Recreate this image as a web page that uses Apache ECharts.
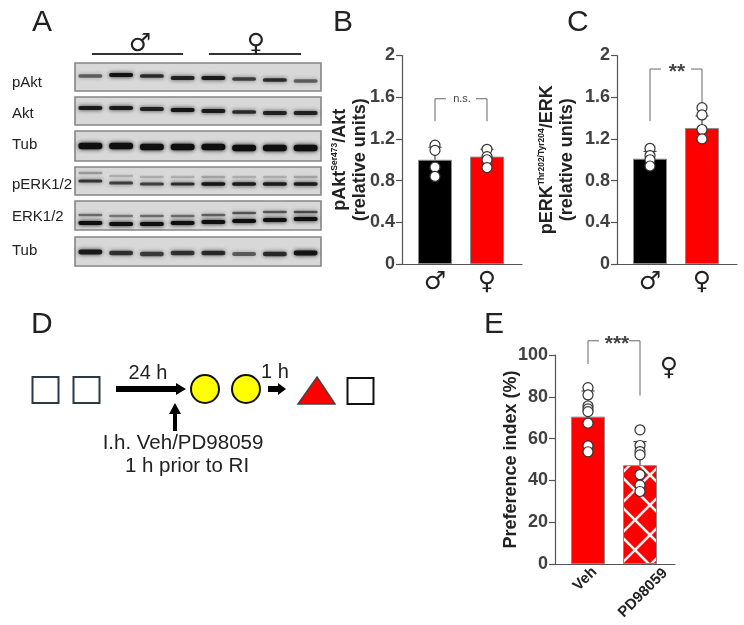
<!DOCTYPE html>
<html lang="en">
<head>
  <meta charset="UTF-8">
  <title>Sex differences in pAkt and pERK</title>
  <style>
    html, body { margin: 0; background: #fff; }
    #main { width: 744px; height: 625px; }
  </style>
</head>
<body>
  <div id="main"></div>
  <script src="https://cdn.jsdelivr.net/npm/echarts@6/dist/echarts.min.js"></script>
  <script>
    // panel A, band strength per lane and how far each band ran down the blot column
    var lanes = [1, 2, 3, 4, 5, 6, 7, 8];
    var blotLabels = ['pAkt', 'Akt', 'Tub', 'pERK1/2', 'ERK1/2', 'Tub'];
    var pAktStrength = [0.55, 0.95, 0.8, 0.85, 0.9, 0.7, 0.8, 0.55];
    var pAktRun = [13, 12, 13, 15, 15, 16, 17, 18];
    var aktStrength = [0.9, 0.9, 0.85, 0.95, 0.9, 0.8, 0.85, 0.85];
    var aktRun = [45, 45, 46, 47, 48, 49, 50, 50];
    var tub1Strength = [1, 1, 1, 1, 1, 1, 1, 1];
    var tub1Run = [83, 83, 84, 84, 84, 85, 85, 85];
    var pErkUpStrength = [0.3, 0.2, 0.2, 0.2, 0.25, 0.2, 0.2, 0.25];
    var pErkUpRun = [110, 113, 114, 114, 114, 114, 114, 114];
    var pErkLowStrength = [0.75, 0.7, 0.7, 0.8, 0.95, 0.9, 0.9, 0.9];
    var pErkLowRun = [118, 120, 121, 121, 121, 121, 121, 121];
    var erkUpStrength = [0.5, 0.45, 0.5, 0.5, 0.55, 0.6, 0.6, 0.65];
    var erkUpRun = [152, 153, 153, 153, 152, 150, 149, 149];
    var erkLowStrength = [1, 1, 1, 1, 1, 1, 1, 1];
    var erkLowRun = [160, 161, 161, 160, 159, 158, 157, 156];
    var tub2Strength = [0.9, 0.75, 0.7, 0.75, 0.8, 0.55, 0.8, 0.95];
    var tub2Run = [189, 190, 191, 190, 190, 191, 191, 190];

    // panels B, C, E
    var sexes = ['♂', '♀'];
    var relTicks = [0, 0.4, 0.8, 1.2, 1.6, 2];
    var aktMeans = [1.0, 1.03];
    var aktErrTop = [1.12, 1.10];
    var aktMale = [1.14, 1.09, 0.93, 0.84];
    var aktFemale = [1.10, 1.03, 1.0, 0.925];
    var erkMeans = [1.01, 1.305];
    var erkErrTop = [1.08, 1.42];
    var erkMale = [1.11, 1.04, 1.0, 0.94];
    var erkFemale = [1.50, 1.43, 1.29, 1.20];
    var drugs = ['Veh', 'PD98059'];
    var prefTicks = [0, 20, 40, 60, 80, 100];
    var prefMeans = [70.5, 47.3];
    var prefErrTop = [82.8, 58.6];
    var prefVeh = [84.4, 80.9, 75.6, 74.2, 72.9, 67.4, 56.5, 53.7];
    var prefDrug = [64.2, 56.7, 53.8, 52.2, 42.8, 37.7, 34.7];

    var font = '"Liberation Sans", Arial, sans-serif';
    var symbolFont = '"DejaVu Sans", sans-serif';
    var ink = '#404040';

    function hatch() {
      var t = 30, ox = 20, oy = 25;
      var c = document.createElement('canvas');
      c.width = t; c.height = t;
      var g = c.getContext('2d');
      g.fillStyle = '#ff0000';
      g.fillRect(0, 0, t, t);
      g.strokeStyle = '#f6f6f6';
      g.lineWidth = 2.6;
      for (var i = -3; i <= 3; i++) {
        g.beginPath(); g.moveTo(ox + i * t - 3 * t, oy - 3 * t); g.lineTo(ox + i * t + 3 * t, oy + 3 * t); g.stroke();
        g.beginPath(); g.moveTo(ox + i * t + 3 * t, oy - 3 * t); g.lineTo(ox + i * t - 3 * t, oy + 3 * t); g.stroke();
      }
      return c;
    }

    var grids = [], xAxes = [], yAxes = [], series = [];

    // hidden grid the blots are drawn on
    grids.push({ left: 75, width: 246, top: 63, height: 203 });
    xAxes.push({ type: 'category', data: lanes, gridIndex: 0, show: false });
    yAxes.push({ type: 'value', min: 0, max: 203, inverse: true, gridIndex: 0, show: false });

    var boxes = [[0, 28], [34, 62], [68, 98], [104, 132], [138, 167], [174, 203]];
    series.push({
      type: 'custom', xAxisIndex: 0, yAxisIndex: 0, silent: true, z: 1,
      data: boxes,
      encode: { x: [], y: [0, 1] },
      renderItem: function (params, api) {
        var a = api.coord([0, api.value(0)]), b = api.coord([0, api.value(1)]);
        return {
          type: 'rect',
          shape: { x: params.coordSys.x, y: a[1], width: params.coordSys.width, height: b[1] - a[1] },
          style: { fill: '#d8d8d8', stroke: '#858585', lineWidth: 1.6 }
        };
      }
    });

    function bandSeries(strength, run, thick) {
      return {
        type: 'custom', xAxisIndex: 0, yAxisIndex: 0, silent: true, z: 2,
        data: lanes.map(function (l, i) { return [i, run[i], strength[i]]; }),
        encode: { x: 0, y: 1 },
        renderItem: function (params, api) {
          var p = api.coord([api.value(0), api.value(1)]);
          var s = api.value(2);
          var t = thick * (0.6 + 0.4 * s);
          return {
            type: 'rect',
            shape: { x: p[0] - 12, y: p[1] - t / 2, width: 24, height: t, r: t / 2 },
            style: {
              fill: 'rgba(15,15,15,' + s + ')',
              shadowBlur: 4,
              shadowColor: 'rgba(15,15,15,' + s + ')'
            }
          };
        }
      };
    }
    series.push(bandSeries(pAktStrength, pAktRun, 4));
    series.push(bandSeries(aktStrength, aktRun, 4));
    series.push(bandSeries(tub1Strength, tub1Run, 6.5));
    series.push(bandSeries(pErkUpStrength, pErkUpRun, 3.5));
    series.push(bandSeries(pErkLowStrength, pErkLowRun, 3.5));
    series.push(bandSeries(erkUpStrength, erkUpRun, 3));
    series.push(bandSeries(erkLowStrength, erkLowRun, 4));
    series.push(bandSeries(tub2Strength, tub2Run, 5));

    // a bar panel is two grids: a wide one for the axis lines, a narrower one for the bars
    function barPanel(p) {
      var fi = grids.length;
      var top = p.top, height = p.height;
      grids.push({ left: p.left, width: 120, top: top, height: height });
      var ticks = p.ticks;
      xAxes.push({
        type: 'value', gridIndex: fi, min: 0, max: 1,
        axisLine: { show: true, lineStyle: { color: '#555', width: 1.2 } },
        axisTick: { show: false }, axisLabel: { show: false }, splitLine: { show: false }
      });
      yAxes.push({
        type: 'value', gridIndex: fi,
        min: ticks[0], max: ticks[ticks.length - 1], interval: ticks[1] - ticks[0],
        name: p.name, nameLocation: 'middle', nameGap: p.nameGap, nameRotate: 90, nameMoveOverlap: false,
        nameTextStyle: p.nameStyle,
        axisLine: { show: true, lineStyle: { color: '#555', width: 1.2 } },
        axisTick: { show: true, length: 6, lineStyle: { color: '#555', width: 1.2 } },
        axisLabel: {
          margin: 7, color: ink, fontFamily: font, fontWeight: 'bold', fontSize: 18,
          formatter: function (v) { return String(Math.round(v * 10) / 10); }
        },
        splitLine: { show: false }
      });

      var bi = grids.length;
      grids.push({ left: p.left + 7, width: 104, top: top, height: height });
      xAxes.push({
        type: 'category', gridIndex: bi, data: p.cats,
        axisLine: { show: false }, axisTick: { show: false },
        axisLabel: p.catLabel
      });
      yAxes.push({
        type: 'value', gridIndex: bi, show: false,
        min: ticks[0], max: ticks[ticks.length - 1]
      });

      series.push({
        type: 'bar', xAxisIndex: bi, yAxisIndex: bi, barWidth: 34, silent: true, z: 2,
        data: p.means.map(function (v, i) {
          return { value: v, itemStyle: { color: p.colors[i], borderColor: '#8a8a8a', borderWidth: 1 } };
        })
      });
      series.push({
        type: 'custom', xAxisIndex: bi, yAxisIndex: bi, silent: true, z: 3,
        data: p.means.map(function (v, i) { return [i, v, p.errTop[i]]; }),
        encode: { x: 0, y: [1, 2] },
        renderItem: function (params, api) {
          var a = api.coord([api.value(0), api.value(1)]), b = api.coord([api.value(0), api.value(2)]);
          var st = { stroke: '#444', lineWidth: 1.2 };
          return {
            type: 'group',
            children: [
              { type: 'line', shape: { x1: a[0], y1: a[1], x2: a[0], y2: b[1] }, style: st },
              { type: 'line', shape: { x1: a[0] - 6.5, y1: b[1], x2: a[0] + 6.5, y2: b[1] }, style: st }
            ]
          };
        }
      });
      p.points.forEach(function (vals, i) {
        series.push({
          type: 'scatter', xAxisIndex: bi, yAxisIndex: bi, silent: true, z: 4,
          symbolSize: 10,
          itemStyle: { color: '#fff', borderColor: '#333', borderWidth: 1.2, opacity: 1 },
          data: vals.map(function (v) { return [i, v]; })
        });
      });
      series.push({
        type: 'custom', xAxisIndex: bi, yAxisIndex: bi, silent: true, z: 3,
        data: [[0, p.bracket[0], p.bracket[1], p.bracket[2]]],
        encode: { x: 0, y: [1, 2, 3] },
        renderItem: function (params, api) {
          var l = api.coord([0, api.value(1)]), t = api.coord([0, api.value(2)]), r = api.coord([1, api.value(3)]);
          var mid = (l[0] + r[0]) / 2, gap = p.gap;
          var st = { stroke: '#666', lineWidth: 1, fill: 'none' };
          return {
            type: 'group',
            children: [
              { type: 'polyline', shape: { points: [[l[0], l[1]], [l[0], t[1]], [mid - gap, t[1]]] }, style: st },
              { type: 'polyline', shape: { points: [[mid + gap, t[1]], [r[0], t[1]], [r[0], r[1]]] }, style: st },
              {
                type: 'text',
                style: {
                  text: p.mark, x: mid + p.markDx, y: t[1] + p.markDy, textAlign: 'center', textVerticalAlign: 'middle',
                  fill: '#444', font: p.markFont
                }
              }
            ]
          };
        }
      });
      // slanted category names sit centred under the bars rather than ending at the tick
      if (p.slant) {
        series.push({
          type: 'custom', xAxisIndex: bi, yAxisIndex: bi, silent: true, z: 5,
          data: p.cats.map(function (c, i) { return [i, 0]; }),
          encode: { x: 0, y: 1 },
          renderItem: function (params, api) {
            var i = api.value(0), o = api.coord([i, 0]);
            return {
              type: 'text',
              x: o[0] + p.slant[i][0], y: o[1] + p.slant[i][1], rotation: Math.PI / 4,
              style: {
                text: p.cats[i], x: 0, y: 0, textAlign: 'center', textVerticalAlign: 'middle',
                fill: '#222', font: 'bold 15px ' + font
              }
            };
          }
        });
      }
    }

    var sexLabel = { color: '#222', fontFamily: symbolFont, fontSize: 25, margin: 6, interval: 0 };
    var nameRich = {
      b: { fontFamily: font, fontWeight: 'bold', fontSize: 18, color: '#222', lineHeight: 20 },
      s: { fontFamily: font, fontWeight: 'bold', fontSize: 8.5, color: '#222', verticalAlign: 'top', lineHeight: 20 }
    };
    var nameStyle = { rich: nameRich, align: 'center', verticalAlign: 'middle' };

    barPanel({
      left: 402, top: 55.5, height: 208.5, ticks: relTicks, cats: sexes, means: aktMeans, errTop: aktErrTop,
      points: [aktMale, aktFemale], colors: ['#000', '#ff0000'],
      name: '{b|pAkt}{s|Ser473}{b|/Akt}\n{b|(relative units)}', nameGap: 52, nameStyle: nameStyle,
      catLabel: sexLabel, bracket: [1.37, 1.585, 1.37], gap: 15, mark: 'n.s.', markDx: 1, markDy: 0,
      markFont: '11px ' + font
    });
    barPanel({
      left: 617, top: 55.5, height: 208.5, ticks: relTicks, cats: sexes, means: erkMeans, errTop: erkErrTop,
      points: [erkMale, erkFemale], colors: ['#000', '#ff0000'],
      name: '{b|pERK}{s|Thr202/Tyr204}{b|/ERK}\n{b|(relative units)}', nameGap: 59.5, nameStyle: nameStyle,
      catLabel: sexLabel, bracket: [1.37, 1.87, 1.51], gap: 15, mark: '**', markDx: 1, markDy: 3,
      markFont: 'bold 21px ' + font
    });
    barPanel({
      left: 555, top: 355, height: 209, ticks: prefTicks, cats: drugs, means: prefMeans, errTop: prefErrTop,
      points: [prefVeh, prefDrug], colors: ['#ff0000', { image: hatch(), repeat: 'repeat' }],
      name: 'Preference index (%)', nameGap: 44,
      nameStyle: { fontFamily: font, fontWeight: 'bold', fontSize: 18, color: '#222', verticalAlign: 'middle' },
      catLabel: { show: false },
      slant: [[-3, 15], [3, 29]],
      bracket: [95.7, 106.8, 80.6], gap: 15, mark: '***', markDx: 3, markDy: 3,
      markFont: 'bold 21px ' + font
    });

    // text and the protocol scheme of panel D
    function txt(s, x, y, size, align, family, fill) {
      return {
        type: 'text', silent: true,
        style: {
          text: s, x: x, y: y - 0.8 * size, textAlign: align || 'left', textVerticalAlign: 'top',
          fill: fill || '#222', font: size + 'px ' + (family || font)
        }
      };
    }
    function square(x, y, w, h, color) {
      return { type: 'rect', silent: true, shape: { x: x, y: y, width: w, height: h }, style: { fill: '#fff', stroke: color, lineWidth: 2 } };
    }
    function arrow(pts) {
      return { type: 'polygon', silent: true, shape: { points: pts }, style: { fill: '#000' } };
    }
    function circle(x) {
      return { type: 'circle', silent: true, shape: { cx: x, cy: 389, r: 14 }, style: { fill: '#ffff00', stroke: '#111', lineWidth: 2 } };
    }

    var graphics = [
      txt('A', 32, 32, 30), txt('B', 333, 32, 30), txt('C', 567, 32, 30),
      txt('D', 31, 334, 30), txt('E', 484, 334, 30),
      { type: 'line', silent: true, shape: { x1: 92, y1: 54, x2: 183, y2: 54 }, style: { stroke: '#333', lineWidth: 2 } },
      { type: 'line', silent: true, shape: { x1: 209, y1: 54, x2: 301, y2: 54 }, style: { stroke: '#333', lineWidth: 2 } },
      txt('♂', 140, 52, 25, 'center', symbolFont), txt('♀', 256, 52, 25, 'center', symbolFont),
      txt('♀', 669, 376, 25, 'center', symbolFont),
      square(32.5, 377, 26, 26, '#2b3a44'), square(73.5, 377, 26, 26, '#2b3a44'), square(347.5, 378, 26, 26, '#111'),
      arrow([[116, 386], [176, 386], [176, 383], [186, 389], [176, 395], [176, 392], [116, 392]]),
      arrow([[268, 386], [278, 386], [278, 383], [286, 389], [278, 395], [278, 392], [268, 392]]),
      arrow([[173, 431], [173, 414], [169, 414], [175, 403], [181, 414], [177, 414], [177, 431]]),
      circle(205), circle(246),
      { type: 'polygon', silent: true, shape: { points: [[317, 377], [335, 404], [298, 404]] }, style: { fill: '#ff0000', stroke: '#444', lineWidth: 1.5 } },
      txt('24 h', 148, 379, 20, 'center'), txt('1 h', 275, 378, 20, 'center'),
      txt('I.h. Veh/PD98059', 183, 449, 20.5, 'center'), txt('1 h prior to RI', 187, 472, 20.5, 'center')
    ];
    blotLabels.forEach(function (s, i) {
      graphics.push(txt(s, 12, [87, 118, 149, 189, 221, 255][i], 15));
    });

    var myChart = echarts.init(document.getElementById('main'));
    myChart.setOption({
      animation: false,
      backgroundColor: '#fff',
      tooltip: { show: false },
      grid: grids,
      xAxis: xAxes,
      yAxis: yAxes,
      series: series,
      graphic: { elements: graphics }
    });
  </script>
</body>
</html>
